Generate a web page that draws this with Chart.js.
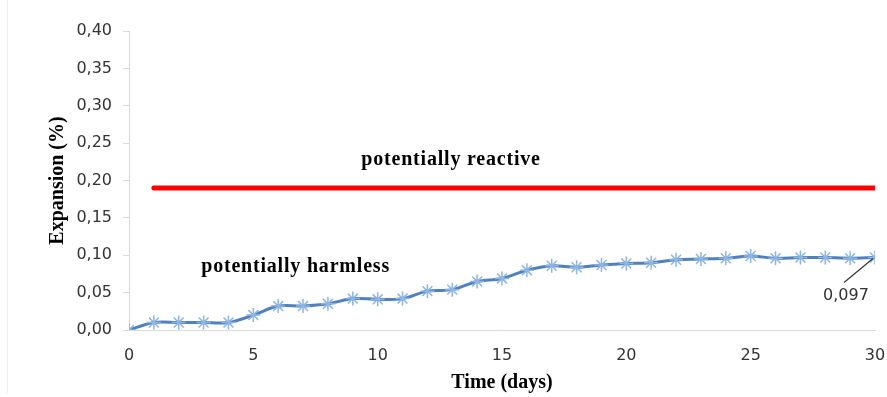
<!DOCTYPE html>
<html>
<head>
<meta charset="utf-8">
<script src="https://cdn.jsdelivr.net/npm/chart.js@4"></script>
<style>
  html, body { margin: 0; padding: 0; background: #fff; }
  #wrap { width: 887px; height: 397px; position: relative; }
</style>
</head>
<body>
<div id="wrap"><canvas id="chart"></canvas></div>
<script>
const days = [0, 1, 2, 3, 4, 5, 6, 7, 8, 9, 10, 11, 12, 13, 14, 15, 16, 17, 18, 19, 20, 21, 22, 23, 24, 25, 26, 27, 28, 29, 30];
const expansion = [0, 0.010, 0.010, 0.010, 0.010, 0.020, 0.032, 0.032, 0.035, 0.042, 0.041, 0.042, 0.052, 0.054, 0.065, 0.069, 0.080, 0.086, 0.084, 0.087, 0.089, 0.090, 0.094, 0.095, 0.096, 0.099, 0.096, 0.097, 0.097, 0.096, 0.097];
const limitDays = [1, 30];
const limitValue = 0.19;
const yTicks = [0, 0.05, 0.10, 0.15, 0.20, 0.25, 0.30, 0.35, 0.40];
const lastLabel = "0,097";

const serif = "'Liberation Serif', 'Times New Roman', serif";
const sans = "'DejaVu Sans', Verdana, sans-serif";

// texts drawn in data coordinates
const notes = {
  id: "notes",
  afterDatasetsDraw(chart) {
    const { ctx, scales } = chart;
    const x = scales.x, y = scales.y;
    ctx.save();
    ctx.fillStyle = "#000";
    ctx.font = "bold 20px " + serif;
    ctx.letterSpacing = "0.8px";
    ctx.textAlign = "center";
    ctx.textBaseline = "middle";
    ctx.fillText("potentially reactive", x.getPixelForValue(12.95), y.getPixelForValue(0.228));
    ctx.fillText("potentially harmless", x.getPixelForValue(6.7), y.getPixelForValue(0.085));
    ctx.letterSpacing = "0px";

    // data label for the last point
    const lx = x.getPixelForValue(days[days.length - 1]);
    const ly = y.getPixelForValue(expansion[expansion.length - 1]);
    ctx.strokeStyle = "#333";
    ctx.lineWidth = 1.2;
    ctx.beginPath();
    ctx.moveTo(lx - 2, ly + 1);
    ctx.lineTo(lx - 31, ly + 25);
    ctx.stroke();
    ctx.font = "16px " + sans;
    ctx.fillStyle = "#333";
    ctx.fillText(lastLabel, lx - 29, ly + 38);

    // faint frame on the left
    ctx.strokeStyle = "#eeeeee";
    ctx.beginPath();
    ctx.moveTo(7.5, 0);
    ctx.lineTo(7.5, 393);
    ctx.stroke();
    ctx.restore();
  }
};

new Chart(document.getElementById("chart"), {
  type: "line",
  data: {
    datasets: [
      {
        data: limitDays.map((d) => ({ x: d, y: limitValue })),
        borderColor: "#ff0000",
        borderWidth: 5,
        pointRadius: 0,
        borderCapStyle: "round",
      },
      {
        data: days.map((d, i) => ({ x: d, y: expansion[i] })),
        borderColor: "#4f81bd",
        borderWidth: 3,
        tension: 0.35,
        pointStyle: "star",
        pointRadius: 7,
        pointBorderColor: "#8db4e2",
        pointBorderWidth: 1.5,
        pointBackgroundColor: "#8db4e2",
      },
    ],
  },
  options: {
    responsive: true,
    maintainAspectRatio: false,
    animation: false,
    layout: { padding: { left: 0, right: 12, top: 31, bottom: 2 } },
    plugins: {
      legend: { display: false },
      tooltip: { enabled: false },
    },
    scales: {
      x: {
        type: "linear",
        min: 0,
        max: 30,
        grid: { display: false, drawTicks: true, tickLength: 6, color: "#d9d9d9" },
        border: { color: "#d9d9d9", width: 1 },
        ticks: {
          stepSize: 5,
          color: "#333",
          font: { family: sans, size: 16 },
          padding: 10,
        },
        title: {
          display: true,
          text: "Time (days)",
          color: "#000",
          font: { family: serif, size: 20, weight: "bold" },
          padding: { top: 4, bottom: 0 },
        },
        afterFit(scale) {
          scale.height = 65;
          scale.paddingLeft = 0;
          scale.paddingRight = 0;
        },
      },
      y: {
        min: 0,
        max: 0.4,
        afterBuildTicks(scale) { scale.ticks = yTicks.map((v) => ({ value: v })); },
        grid: {
          display: true,
          drawOnChartArea: false,
          drawTicks: true,
          tickLength: 6,
          color: "#d9d9d9",
        },
        border: { color: "#d9d9d9", width: 1 },
        ticks: {
          color: "#333",
          font: { family: sans, size: 16 },
          padding: 11,
          callback: (v) => v.toFixed(2).replace(".", ","),
        },
        title: {
          display: true,
          text: "Expansion (%)",
          color: "#000",
          font: { family: serif, size: 20, weight: "bold" },
          padding: { top: 46, bottom: 0 },
        },
        afterFit(scale) { scale.width = 129; },
      },
    },
  },
  plugins: [notes],
});
</script>
</body>
</html>
